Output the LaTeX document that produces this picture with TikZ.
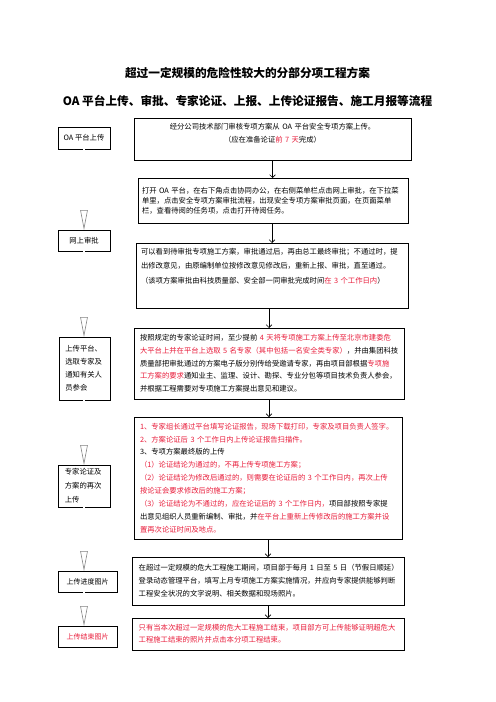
\documentclass[tikz,border=0pt]{standalone}
\usepackage{fontspec}
\setmainfont{Noto Sans CJK SC}
\usetikzlibrary{arrows.meta}
\definecolor{notered}{RGB}{232,28,58}
\newcommand{\hl}[1]{\textcolor{notered}{#1}}

\begin{document}
\begin{tikzpicture}[
    x=1.2pt, y=-1.2pt,
    every node/.style={inner sep=0, outer sep=0},
    stepbox/.style={draw, line width=0.9pt, anchor=north west, align=left, font=\fontsize{8.8pt}{15.5pt}\selectfont},
    sidebox/.style={draw, line width=0.9pt, anchor=north west, align=center, font=\fontsize{8.8pt}{16pt}\selectfont},
    flowarrow/.style={line width=0.7pt, -{Straight Barb[length=3.5pt, width=7pt]}},
    hollowarrow/.style={draw=gray, line width=0.7pt, double=white, double distance=2pt, -{Triangle[open, length=24pt, width=9pt, fill=white]}}
  ]
  \useasboundingbox (0,0) rectangle (496,702);

  \node[font=\fontsize{14pt}{14pt}\selectfont\bfseries] (title) at (247.5,73) {超过一定规模的危险性较大的分部分项工程方案};
  \node[font=\fontsize{14pt}{14pt}\selectfont\bfseries] (subtitle) at (247.5,101) {OA 平台上传、审批、专家论证、上报、上传论证报告、施工月报等流程};

  \node[stepbox, align=center, text width=320pt, inner xsep=6.2pt, minimum height=50.4pt] (b1) at (134,118)
    {经分公司技术部门审核专项方案从~OA~平台安全专项方案上传。\\
     （应在准备论证\hl{前~7~天}完成）\rule[-15pt]{0pt}{0pt}};
  \node[stepbox, text width=314.4pt, inner xsep=4.8pt, minimum height=54pt, font=\fontsize{8.8pt}{12pt}\selectfont] (b2) at (138,178)
    {打开~OA~平台，在右下角点击协同办公，在右侧菜单栏点击网上审批，在下拉菜\\
     单里，点击安全专项方案审批流程，出现安全专项方案审批页面，在页面菜单\\
     栏，查看待阅的任务项，点击打开待阅任务。};
  \node[stepbox, text width=314.4pt, inner xsep=6pt, minimum height=78pt, font=\fontsize{8.8pt}{17.4pt}\selectfont] (b3) at (136,243)
    {可以看到待审批专项施工方案，审批通过后，再由总工最终审批；不通过时，提\\
     出修改意见，由原编制单位按修改意见修改后，重新上报、审批，直至通过。\\
     （该项方案审批由科技质量部、安全部一同审批完成时间\hl{在~3~个工作日内}）\rule[-24pt]{0pt}{0pt}};
  \node[stepbox, text width=309.6pt, inner xsep=7.2pt, minimum height=85.2pt, font=\fontsize{8.8pt}{15.2pt}\selectfont] (b4) at (134,328)
    {按照规定的专家论证时间，至少提前~\hl{4~天将专项施工方案上传至北京市建委危}\\
     \hl{大平台上并在平台上选取~5~名专家（其中包括一名安全类专家）}，并由集团科技\\
     质量部把审批通过的方案电子版分别传给受邀请专家，再由项目部根据\hl{专项施}\\
     \hl{工方案的要求}通知业主、监理、设计、勘探、专业分包等项目技术负责人参会，\\
     并根据工程需要对专项施工方案提出意见和建议。};
  \node[stepbox, text width=307.2pt, inner xsep=7.2pt, minimum height=146.4pt] (b5) at (134,417)
    {\hl{1、专家组长通过平台填写论证报告，现场下载打印，专家及项目负责人签字。}\\
     \hl{2、方案论证后~3~个工作日内上传论证报告扫描件。}\\
     3、专项方案最终版的上传\\
     \hl{（1）论证结论为通过的，不再上传专项施工方案；}\\
     \hl{（2）论证结论为修改后通过的，则需要在论证后的~3~个工作日内，再次上传}\\
     \hl{按论证会要求修改后的施工方案；}\\
     \hl{（3）论证结论为不通过的，应在论证后的~3~个工作日内，}项目部按照专家提\\
     出意见组织人员重新编制、审批，并\hl{在平台上重新上传修改后的施工方案并设}\\
     \hl{置再次论证时间及地点。}};
  \node[stepbox, text width=310.4pt, inner xsep=8pt, minimum height=57.6pt] (b6) at (132,557)
    {在超过一定规模的危大工程施工期间，项目部于每月~1~日至~5~日（节假日顺延）\\
     登录动态管理平台，填写上月专项施工方案实施情况，并应向专家提供能够判断\\
     工程安全状况的文字说明、相关数据和现场照片。};
  \node[stepbox, text width=310.4pt, inner xsep=8pt, minimum height=38.4pt, text=notered, font=\fontsize{8.8pt}{14.4pt}\selectfont] (b7) at (132,618)
    {只有当本次超过一定规模的危大工程施工结束，项目部方可上传能够证明超危大\\
     工程施工结束的照片并点击本分项工程结束。};

  \node[sidebox, minimum width=62.4pt, minimum height=26.4pt] (oa) at (58,127) {OA 平台上传};
  \node[sidebox, minimum width=62.4pt, minimum height=25.2pt] (wssp) at (58,230) {网上审批};
  \node[sidebox, align=left, text width=46pt, inner xsep=7.6pt, minimum height=75.6pt, font=\fontsize{8.8pt}{15.6pt}\selectfont] (xzzj) at (59,337)
    {上传平台、\\选取专家及\\通知有关人\\员参会};
  \node[sidebox, align=left, text width=46pt, inner xsep=8.2pt, minimum height=50.4pt, font=\fontsize{8.8pt}{16.8pt}\selectfont] (zjlz) at (58,465)
    {专家论证及\\方案的再次\\上传};
  \node[sidebox, minimum width=70.8pt, minimum height=25.2pt, font=\fontsize{8.4pt}{10pt}\selectfont] (jdtp) at (58,571) {上传进度图片};
  \node[sidebox, minimum width=70.8pt, minimum height=25.2pt, text=notered, font=\fontsize{8.4pt}{10pt}\selectfont] (jstp) at (58,626) {上传结束图片};

  \draw[flowarrow] (b1.south) -- (b1.south |- b2.north);
  \draw[flowarrow] (b3.north |- b2.south) -- (b3.north);
  \draw[flowarrow] (b4.north |- b3.south) -- (b4.north);
  \draw[flowarrow] (b4.south) -- (b4.south |- b5.north);
  \draw[flowarrow] (b5.south) -- (b5.south |- b6.north);
  \draw[flowarrow] (b6.south) -- (b6.south |- b7.north);

  \draw[hollowarrow] (oa.south) -- (wssp.north);
  \draw[hollowarrow] (wssp.south) -- (wssp.south |- xzzj.north);
  \draw[hollowarrow] (wssp.south |- xzzj.south) -- (wssp.south |- zjlz.north);
  \draw[hollowarrow] (zjlz.south) -- (zjlz.south |- jdtp.north);
  \draw[hollowarrow] (zjlz.south |- jdtp.south) -- (zjlz.south |- jstp.north);
\end{tikzpicture}
\end{document}
